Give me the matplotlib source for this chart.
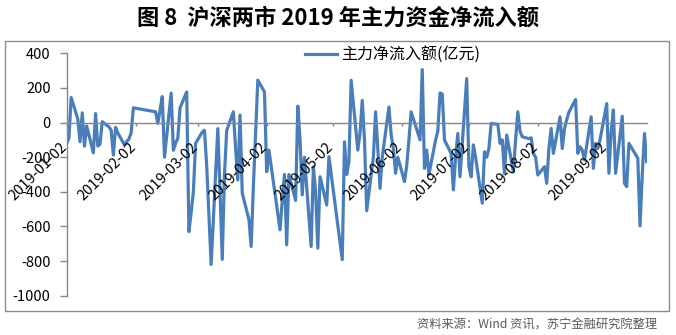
#
# 沪深两市 2019 年主力资金净流入额（日度折线）
#
import matplotlib
matplotlib.use('Agg')
import matplotlib.pyplot as plt
from matplotlib.patches import Rectangle
from matplotlib.transforms import ScaledTranslation
import pandas as pd

plt.rcParams['font.family'] = ['Noto Sans CJK SC', 'DejaVu Sans']

# 交易日：工作日去掉节假日休市
holidays = ['2019-01-01', '2019-02-04', '2019-02-05', '2019-02-06', '2019-02-07',
            '2019-02-08', '2019-04-05', '2019-05-01', '2019-05-02', '2019-05-03',
            '2019-06-07', '2019-09-13']

# 每日主力净流入额（亿元），按月分开
jan = [-120, -90, 145, 20, -111, 56, -136, -20, -175, 52, -136, -125, 5, -25, -44,
       -188, -28, -60, -130, -110, -95, -60]
feb = [85, 62, -5, 70, 150, -200, 170, -160, -120, -90, 85, 177, -630, -520, -400]
mar = [-120, -55, -45, -250, -540, -820, -35, -400, -790, -300, -45, 62, -150, -332,
       43, -408, -560, -716, -370, -60, 245]
apr = [177, -284, -159, -250, -620, -450, -300, -706, -300, -450, 95, -100, -418,
       -200, -716, -255, -400, -725, -313, -476, -197]
may = [-792, -111, -300, -226, 244, -159, -60, 128, -100, -510, -200, 62, -150, -380,
       -200, 90, -70, -150, -293, -200]
jun = [-341, -250, -101, 62, -100, 306, -265, -159, -300, -101, -50, 171, 165, -101,
       -178, -389, -200, -63, -313]
jul = [254, -255, -313, -129, -200, -466, -169, -200, -150, -5, -10, -120, -100, -293,
       -72, -284, -100, 62, -50, -82, -93, -88, -178]
aug = [-200, -303, -255, -351, -150, -34, -178, 33, -150, -37, 17, 60, 133, -178, -140,
       -159, -216, 33, -265, -120, -150, -100]
sep = [110, -293, -50, 73, -293, 37, -351, -370, -120, -206, -597, -300, -63, -226]

values = jan + feb + mar + apr + may + jun + jul + aug + sep

days = pd.bdate_range('2019-01-02', '2019-09-20')
days = days[~days.isin(pd.to_datetime(holidays))]

tick_labels = ['2019-01-02', '2019-02-02', '2019-03-02', '2019-04-02', '2019-05-02',
               '2019-06-02', '2019-07-02', '2019-08-02', '2019-09-02']
yticks = [-1000, -800, -600, -400, -200, 0, 200, 400]

W, H = 676, 335
fig = plt.figure(figsize=(W / 100, H / 100), dpi=100)

# 外框
fig.add_artist(Rectangle((5 / W, 1 - 311 / H), 664 / W, 270 / H, transform=fig.transFigure,
                         fill=False, edgecolor='#8c8c8c', linewidth=1))

fig.text(0.5, 1 - 18 / H, '图 8  沪深两市 2019 年主力资金净流入额', ha='center', va='center',
         fontsize=16, fontweight='bold')

ax = fig.add_axes([66.7 / W, 1 - 295.7 / H, 580 / W, 242.4 / H])
ax.plot(days, values, color='#4a7ebb', linewidth=2.3, label='主力净流入额(亿元)')

ax.set_ylim(-1000, 400)
ax.set_yticks(yticks, labels=[str(v) for v in yticks])
ax.set_xlim(pd.Timestamp('2019-01-02'), pd.Timestamp('2019-09-20'))
tick_dates = pd.to_datetime(tick_labels)
ax.set_xticks(tick_dates)

for s in ['top', 'right']:
    ax.spines[s].set_visible(False)
ax.spines['bottom'].set_position(('data', 0))
for s in ['left', 'bottom']:
    ax.spines[s].set_color('#868686')
    ax.spines[s].set_linewidth(1)

ax.tick_params(axis='y', length=5, width=1, color='#868686', pad=6.5, labelsize=10.5)
ax.tick_params(axis='x', length=2.5, width=1, color='#868686', labelbottom=False)

# 斜排日期标签，挂在 0 轴下方
off = ax.transData + ScaledTranslation(-7 / 100, -17.5 / 100, fig.dpi_scale_trans)
for d, lab in zip(tick_dates, tick_labels):
    ax.text(d, 0, lab, transform=off, rotation=45, rotation_mode='anchor',
            ha='right', va='top', fontsize=10.5)

ax.legend(loc='center left', bbox_to_anchor=(305 / W, 1 - 55 / H),
          bbox_transform=fig.transFigure, frameon=False, fontsize=11.5,
          handlelength=2.0, handletextpad=0.25, borderpad=0, borderaxespad=0)

fig.text(657 / W, 1 - 325 / H, '资料来源：Wind 资讯，苏宁金融研究院整理', ha='right',
         va='center', fontsize=8.8, color='#595959', style='italic')

fig.savefig('out.png', dpi=100)
